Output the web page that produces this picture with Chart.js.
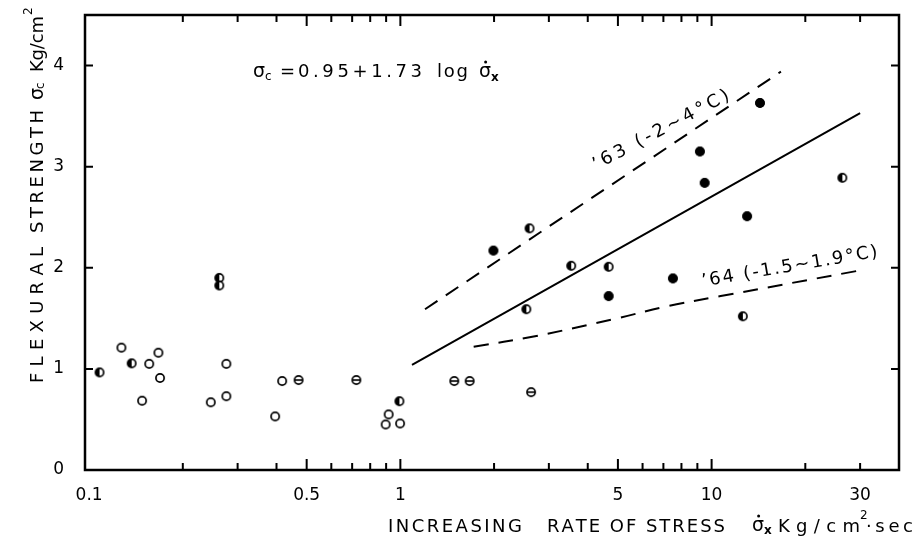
<!DOCTYPE html>
<html>
<head>
<meta charset="utf-8">
<script src="https://cdn.jsdelivr.net/npm/chart.js@4"></script>
<style>
  html, body { margin: 0; padding: 0; background: #fff; }
  #wrap { width: 919px; height: 539px; position: relative; }
</style>
</head>
<body>
<div id="wrap"><canvas id="strengthChart"></canvas></div>
<script>
// measured points, grouped by marker type
const openX = [0.127, 0.148, 0.156, 0.167, 0.169, 0.246, 0.276, 0.276, 0.396, 0.417, 0.897, 0.917, 0.998];
const openY = [1.21, 0.685, 1.05, 1.16, 0.91, 0.67, 1.05, 0.73, 0.53, 0.88, 0.45, 0.55, 0.46];
const halfX = [0.108, 0.137, 0.262, 0.262, 0.993, 2.54, 2.6, 3.54, 4.67, 12.6, 26.3];
const halfY = [0.965, 1.055, 1.90, 1.825, 0.68, 1.59, 2.39, 2.02, 2.01, 1.52, 2.89];
const filledX = [1.99, 4.67, 7.51, 9.17, 9.5, 13.0, 14.3];
const filledY = [2.17, 1.72, 1.895, 3.15, 2.84, 2.51, 3.63];
const thetaX = [0.471, 0.722, 1.49, 1.67, 2.63];
const thetaY = [0.89, 0.89, 0.88, 0.88, 0.77];

// fitted line and the two dashed season lines
const fitX = [1.09, 30];
const fitY = [1.04, 3.53];
const line63X = [1.2, 16.7];
const line63Y = [1.59, 3.94];
const line64X = [1.72, 2.68, 4.97, 7.2, 10.7, 29.5];
const line64Y = [1.22, 1.32, 1.5, 1.62, 1.72, 1.97];

// axes
const xTickValues = [0.2, 0.3, 0.4, 0.5, 0.6, 0.7, 0.8, 0.9, 1, 2, 3, 4, 5, 6, 7, 8, 9, 10, 20, 30];
const xMajorTicks = [0.5, 1, 5, 10];
const xLabelValues = [0.1, 0.5, 1, 5, 10, 30];
const xLabelTexts = ["0.1", "0.5", "1", "5", "10", "30"];
const yTickValues = [0, 1, 2, 3, 4];

const FONT = '"DejaVu Sans", sans-serif';

function toPoints(xs, ys) {
  return xs.map((v, i) => ({ x: v, y: ys[i] }));
}

function marker(kind) {
  const c = document.createElement("canvas");
  c.width = 14; c.height = 14;
  const g = c.getContext("2d");
  const r = 4.1;
  g.lineWidth = 1.7;
  g.strokeStyle = "#000";
  g.fillStyle = "#fff";
  g.beginPath(); g.arc(7, 7, r, 0, Math.PI * 2); g.fill();
  g.fillStyle = "#000";
  if (kind === "filled") {
    g.beginPath(); g.arc(7, 7, r + 0.6, 0, Math.PI * 2); g.fill();
  } else if (kind === "half") {
    g.beginPath(); g.arc(7, 7, r, Math.PI / 2, Math.PI * 1.5); g.closePath(); g.fill();
  } else if (kind === "theta") {
    g.fillRect(3, 6.2, 8, 1.6);
  }
  g.beginPath(); g.arc(7, 7, r, 0, Math.PI * 2); g.stroke();
  return c;
}

function spacedText(ctx, text, x, y, width) {
  const chars = [...text];
  const natural = chars.reduce((s, ch) => s + ctx.measureText(ch).width, 0);
  const gap = chars.length > 1 ? (width - natural) / (chars.length - 1) : 0;
  let cx = x;
  chars.forEach(ch => {
    ctx.fillText(ch, cx, y);
    cx += ctx.measureText(ch).width + gap;
  });
}

function sigmaDot(ctx, x, y) {
  ctx.fillText("σ", x, y);
  const w = ctx.measureText("σ").width;
  ctx.beginPath();
  ctx.arc(x + w * 0.55, y - 10, 1.5, 0, Math.PI * 2);
  ctx.fill();
}

// frame, inward ticks, titles and notes
const frameAndText = {
  id: "frameAndText",
  afterDraw(chart) {
    const { ctx, chartArea: a, scales: { x, y } } = chart;
    ctx.save();
    ctx.strokeStyle = "#000";
    ctx.fillStyle = "#000";
    ctx.lineWidth = 2.5;
    ctx.strokeRect(a.left, a.top, a.right - a.left, a.bottom - a.top);

    ctx.lineWidth = 2;
    ctx.beginPath();
    xTickValues.forEach(v => {
      const px = x.getPixelForValue(v);
      const len = xMajorTicks.includes(v) ? 11 : 7;
      ctx.moveTo(px, a.bottom); ctx.lineTo(px, a.bottom - len);
      ctx.moveTo(px, a.top); ctx.lineTo(px, a.top + len);
    });
    yTickValues.slice(1).forEach(v => {
      const py = y.getPixelForValue(v);
      ctx.moveTo(a.left, py); ctx.lineTo(a.left + 8, py);
      ctx.moveTo(a.right, py); ctx.lineTo(a.right - 8, py);
    });
    ctx.stroke();

    ctx.textBaseline = "middle";
    ctx.textAlign = "left";

    // x axis title
    ctx.font = "18px " + FONT;
    spacedText(ctx, "INCREASING", 388, 527, 134);
    spacedText(ctx, "RATE OF STRESS", 547, 527, 178);
    ctx.font = "19px " + FONT;
    sigmaDot(ctx, 752, 526);
    ctx.font = "bold 12px " + FONT;
    ctx.fillText("x", 764, 531);
    ctx.font = "18px " + FONT;
    spacedText(ctx, "Kg/cm", 778, 527, 82);
    ctx.font = "12px " + FONT;
    ctx.fillText("2", 860, 516);
    ctx.font = "18px " + FONT;
    spacedText(ctx, "·sec", 866, 527, 47);

    // y axis title
    ctx.save();
    ctx.translate(38, 0);
    ctx.rotate(-Math.PI / 2);
    ctx.font = "18px " + FONT;
    spacedText(ctx, "FLEXURAL", -383, 0, 136);
    spacedText(ctx, "STRENGTH", -233, 0, 123);
    ctx.font = "19px " + FONT;
    ctx.fillText("σ", -100, 0);
    ctx.font = "12px " + FONT;
    ctx.fillText("c", -89, 3);
    ctx.font = "18px " + FONT;
    spacedText(ctx, "Kg/cm", -72, 0, 56);
    ctx.font = "12px " + FONT;
    ctx.fillText("2", -15, -9);
    ctx.restore();

    // regression formula
    ctx.font = "19px " + FONT;
    ctx.fillText("σ", 253, 72);
    ctx.font = "12px " + FONT;
    ctx.fillText("c", 265, 77);
    ctx.font = "18px " + FONT;
    spacedText(ctx, "=", 280, 72, 10);
    spacedText(ctx, "0.95+1.73", 298, 72, 124);
    spacedText(ctx, "log", 437, 72, 31);
    ctx.font = "19px " + FONT;
    sigmaDot(ctx, 479, 72);
    ctx.font = "bold 12px " + FONT;
    ctx.fillText("x", 491, 78);

    // season labels along the dashed lines
    ctx.font = "18px " + FONT;
    ctx.save();
    ctx.translate(594, 166);
    ctx.rotate(Math.atan2(-72, 136));
    spacedText(ctx, "’63 (-2~4°C)", 0, 0, 152);
    ctx.restore();

    ctx.save();
    ctx.translate(702, 282);
    ctx.rotate(Math.atan2(-30, 176));
    spacedText(ctx, "’64 (-1.5~1.9°C)", 0, 0, 178);
    ctx.restore();

    ctx.restore();
  }
};

const lineStyle = { borderColor: "#000", borderWidth: 2, pointRadius: 0, showLine: true, fill: false };

new Chart(document.getElementById("strengthChart"), {
  type: "scatter",
  data: {
    datasets: [
      { ...lineStyle, data: toPoints(fitX, fitY) },
      { ...lineStyle, data: toPoints(line63X, line63Y), borderDash: [15, 10] },
      { ...lineStyle, data: toPoints(line64X, line64Y), borderDash: [15, 10], tension: 0.35 },
      { data: toPoints(openX, openY), pointStyle: marker("open") },
      { data: toPoints(halfX, halfY), pointStyle: marker("half") },
      { data: toPoints(filledX, filledY), pointStyle: marker("filled") },
      { data: toPoints(thetaX, thetaY), pointStyle: marker("theta") }
    ]
  },
  options: {
    responsive: true,
    maintainAspectRatio: false,
    animation: false,
    layout: { autoPadding: false, padding: { top: 15, right: 20, left: 0, bottom: 0 } },
    plugins: { legend: { display: false }, tooltip: { enabled: false } },
    scales: {
      x: {
        type: "logarithmic",
        min: 0.097,
        max: 40,
        grid: { display: false, drawTicks: false },
        border: { display: false },
        afterFit: s => { s.height = 69; s.paddingLeft = 0; s.paddingRight = 0; },
        afterBuildTicks: s => { s.ticks = xLabelValues.map(v => ({ value: v })); },
        ticks: {
          autoSkip: false,
          maxRotation: 0,
          padding: 15,
          color: "#000",
          font: { family: FONT, size: 17 },
          callback: v => xLabelTexts[xLabelValues.indexOf(v)] || ""
        }
      },
      y: {
        min: 0,
        max: 4.5,
        grid: { display: false, drawTicks: false },
        border: { display: false },
        afterFit: s => { s.width = 85; s.paddingTop = 0; s.paddingBottom = 0; },
        afterBuildTicks: s => { s.ticks = yTickValues.map(v => ({ value: v })); },
        ticks: {
          padding: 21,
          color: "#000",
          font: { family: FONT, size: 17 }
        }
      }
    }
  },
  plugins: [frameAndText]
});
</script>
</body>
</html>
